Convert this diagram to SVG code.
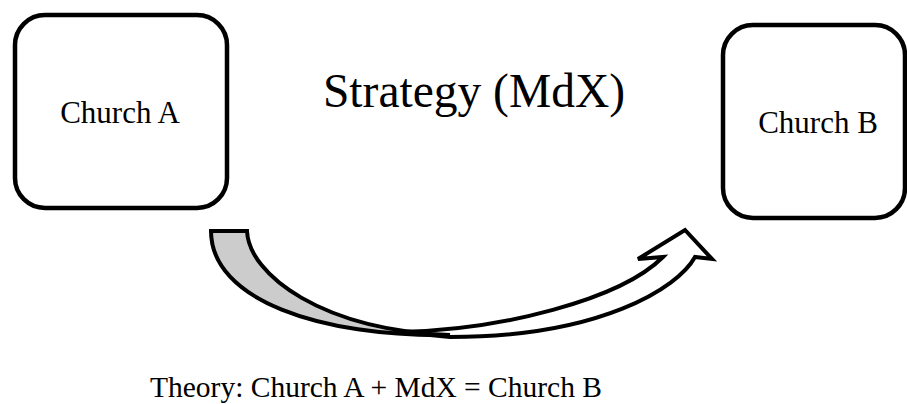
<svg xmlns="http://www.w3.org/2000/svg" width="907" height="404" viewBox="0 0 907 404">
<style>
.box{fill:#fff;stroke:#000;stroke-width:4.5}
.lbl{font-family:"Liberation Serif","Times New Roman",serif;fill:#000}
.arr{stroke:#000;stroke-width:4;stroke-linejoin:miter}
</style>
<rect width="907" height="404" fill="#fff"/>
<g id="churchA">
<rect class="box" x="15" y="15" width="212" height="193" rx="30" ry="30"/>
<text class="lbl" x="120" y="123" font-size="31" text-anchor="middle">Church A</text>
</g>
<g id="churchB">
<rect class="box" x="723" y="25" width="182" height="193" rx="30" ry="30"/>
<text class="lbl" x="818" y="133" font-size="31" text-anchor="middle">Church B</text>
</g>
<g id="strategy">
<text class="lbl" x="474" y="107" font-size="47.5" text-anchor="middle">Strategy (MdX)</text>
</g>
<g id="connectors">
<path class="arr" fill="#fff" d="M400,332 C500,330 620,300 663,257 L638,259 L685,230 L712,259 L695,257 C678,288 600,337 450,337 Z"/>
<path class="arr" fill="#ccc" d="M211,231 L247,231 C249,275 322,330 450,335 C320,337 211,300 211,231 Z"/>
</g>
<g id="theory">
<text class="lbl" x="150" y="397" font-size="29.5">Theory: Church A + MdX = Church B</text>
</g>
</svg>
